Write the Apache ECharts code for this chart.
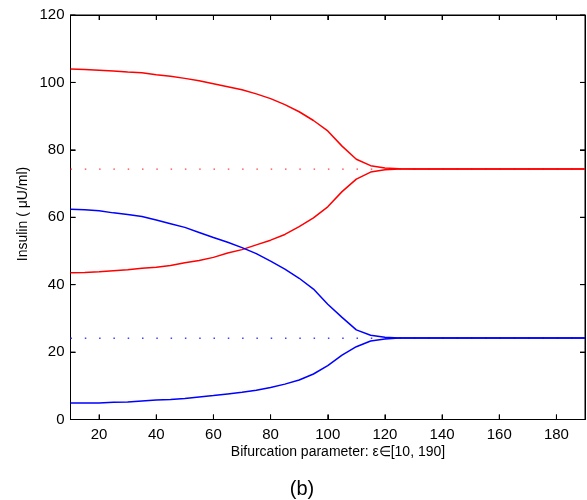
<!DOCTYPE html>
<html>
<head>
<meta charset="utf-8">
<script src="https://cdn.jsdelivr.net/npm/echarts@6/dist/echarts.min.js"></script>
<style>
  html, body { margin: 0; padding: 0; background: #fff; }
  #chart { width: 587px; height: 500px; }
</style>
</head>
<body>
<div id="chart"></div>
<script>
// Bifurcation parameter values (epsilon)
const epsilon = [10, 15, 20, 25, 30, 35, 40, 45, 50, 55, 60, 65, 70, 75, 80, 85, 90, 95, 100,
  105, 110, 115, 120, 125, 130, 135, 140, 145, 150, 155, 160, 165, 170, 175, 180, 185, 190];

// Insulin branches (red pair and blue pair)
const redUpper = [104.0, 103.8, 103.6, 103.4, 103.1, 102.9, 102.3, 101.8, 101.2, 100.5, 99.6, 98.7,
  97.8, 96.6, 95.2, 93.4, 91.3, 88.7, 85.6, 81.1, 77.2, 75.3, 74.6, 74.4, 74.3, 74.3, 74.3, 74.3,
  74.3, 74.3, 74.3, 74.3, 74.3, 74.3, 74.3, 74.3, 74.3];
const redLower = [43.5, 43.6, 43.8, 44.1, 44.4, 44.9, 45.2, 45.7, 46.5, 47.2, 48.1, 49.4, 50.4,
  51.8, 53.2, 54.9, 57.2, 59.8, 63.1, 67.6, 71.3, 73.4, 74.1, 74.3, 74.3, 74.3, 74.3, 74.3, 74.3,
  74.3, 74.3, 74.3, 74.3, 74.3, 74.3, 74.3, 74.3];
const blueUpper = [62.4, 62.2, 61.9, 61.3, 60.8, 60.2, 59.2, 58.1, 57.0, 55.5, 54.0, 52.6, 51.0,
  49.2, 47.0, 44.6, 41.9, 38.7, 34.2, 30.3, 26.6, 25.0, 24.4, 24.2, 24.2, 24.2, 24.2, 24.2, 24.2,
  24.2, 24.2, 24.2, 24.2, 24.2, 24.2, 24.2, 24.2];
const blueLower = [4.9, 4.9, 4.9, 5.1, 5.2, 5.5, 5.8, 5.9, 6.2, 6.7, 7.1, 7.6, 8.1, 8.7, 9.5,
  10.5, 11.7, 13.5, 16.0, 19.1, 21.6, 23.3, 23.9, 24.2, 24.2, 24.2, 24.2, 24.2, 24.2, 24.2, 24.2,
  24.2, 24.2, 24.2, 24.2, 24.2, 24.2];

// Steady-state reference levels (dotted)
const redSteady = 74.3;
const blueSteady = 24.1;

// Axis ranges and tick positions
const xMin = 10, xMax = 190;
const yMin = 0, yMax = 120;
const xTicks = [20, 40, 60, 80, 100, 120, 140, 160, 180];
const yTicks = [0, 20, 40, 60, 80, 100, 120];

// Axis titles and panel tag
const xTitle = 'Bifurcation parameter: \u03b5\u2208[10, 190]';
const yTitle = 'Insulin ( \u03bcU/ml)';
const panelTag = '(b)';

const FONT = '"Liberation Sans", Arial, Helvetica, sans-serif';
const TICK_LEN = 5;

function pairs(ys) { return epsilon.map((x, i) => [x, ys[i]]); }

function axisLine() { return { show: true, onZero: false, lineStyle: { color: '#000', width: 1 } }; }
function ticks(values) {
  return { show: true, inside: true, length: TICK_LEN, customValues: values,
           lineStyle: { color: '#000', width: 1 } };
}
const hiddenSplit = { show: true, lineStyle: { color: 'rgba(0,0,0,0)' } };

function tickSeg(x1, y1, x2, y2) {
  return { type: 'line', shape: { x1, y1, x2, y2 }, style: { stroke: '#000', lineWidth: 1 } };
}

// inward tick marks on all four sides of the frame
function renderXTick(params, api) {
  const v = api.value(0);
  const b = api.coord([v, yMin]);
  const t = api.coord([v, yMax]);
  return { type: 'group', children: [
    tickSeg(b[0], b[1], b[0], b[1] - TICK_LEN),
    tickSeg(t[0], t[1], t[0], t[1] + TICK_LEN)
  ] };
}
function renderYTick(params, api) {
  const v = api.value(1);
  const l = api.coord([xMin, v]);
  const r = api.coord([xMax, v]);
  return { type: 'group', children: [
    tickSeg(l[0], l[1], l[0] + TICK_LEN, l[1]),
    tickSeg(r[0], r[1], r[0] - TICK_LEN, r[1])
  ] };
}

const chart = echarts.init(document.getElementById('chart'));

chart.setOption({
  animation: false,
  grid: { left: 70.5, right: 2, top: 15, bottom: 80.5,
          show: true, borderColor: '#000', borderWidth: 1, backgroundColor: 'transparent' },
  graphic: [
    { type: 'text', x: 338, y: 452,
      style: { text: xTitle, font: '14px ' + FONT, fill: '#000', align: 'center', verticalAlign: 'middle' } },
    { type: 'text', x: 23, y: 214, rotation: Math.PI / 2,
      style: { text: yTitle, font: '14px ' + FONT, fill: '#000', align: 'center', verticalAlign: 'middle' } },
    { type: 'text', x: 302, y: 489,
      style: { text: panelTag, font: '20px ' + FONT, fill: '#000', align: 'center', verticalAlign: 'middle' } }
  ],
  xAxis: [
    {
      type: 'value', min: xMin, max: xMax, position: 'bottom',
      axisLine: axisLine(), splitLine: hiddenSplit,
      axisTick: ticks(xTicks),
      axisLabel: { customValues: xTicks, margin: 8, fontFamily: FONT, fontSize: 15, color: '#000' }
    },
    {
      type: 'value', min: xMin, max: xMax, position: 'top',
      axisLine: axisLine(), splitLine: hiddenSplit,
      axisTick: ticks(xTicks),
      axisLabel: { show: false }
    }
  ],
  yAxis: [
    {
      type: 'value', min: yMin, max: yMax, interval: 20, position: 'left',
      axisLine: axisLine(), splitLine: hiddenSplit,
      axisTick: ticks(yTicks),
      axisLabel: { customValues: yTicks, margin: 6, fontFamily: FONT, fontSize: 15, color: '#000' }
    },
    {
      type: 'value', min: yMin, max: yMax, interval: 20, position: 'right',
      axisLine: axisLine(), splitLine: hiddenSplit,
      axisTick: ticks(yTicks),
      axisLabel: { show: false }
    }
  ],
  series: [
    {
      type: 'custom', silent: true, clip: false, z: 5,
      data: xTicks.map(v => [v, yMin]),
      renderItem: renderXTick
    },
    {
      type: 'custom', silent: true, clip: false, z: 5,
      data: yTicks.map(v => [xMin, v]),
      renderItem: renderYTick
    },
    {
      type: 'line', name: 'red steady', showSymbol: false, silent: true, z: 1,
      data: [[xMin, redSteady], [xMax, redSteady]],
      lineStyle: { color: '#ff4040', width: 1.3, type: [1.5, 12.8] }
    },
    {
      type: 'line', name: 'blue steady', showSymbol: false, silent: true, z: 1,
      data: [[xMin, blueSteady], [xMax, blueSteady]],
      lineStyle: { color: '#4040ff', width: 1.3, type: [1.5, 12.8] }
    },
    { type: 'line', showSymbol: false, data: pairs(redUpper), lineStyle: { color: '#ff0000', width: 1.5 }, z: 3 },
    { type: 'line', showSymbol: false, data: pairs(redLower), lineStyle: { color: '#ff0000', width: 1.5 }, z: 3 },
    { type: 'line', showSymbol: false, data: pairs(blueUpper), lineStyle: { color: '#0000ff', width: 1.5 }, z: 3 },
    { type: 'line', showSymbol: false, data: pairs(blueLower), lineStyle: { color: '#0000ff', width: 1.5 }, z: 3 }
  ]
});
</script>
</body>
</html>
